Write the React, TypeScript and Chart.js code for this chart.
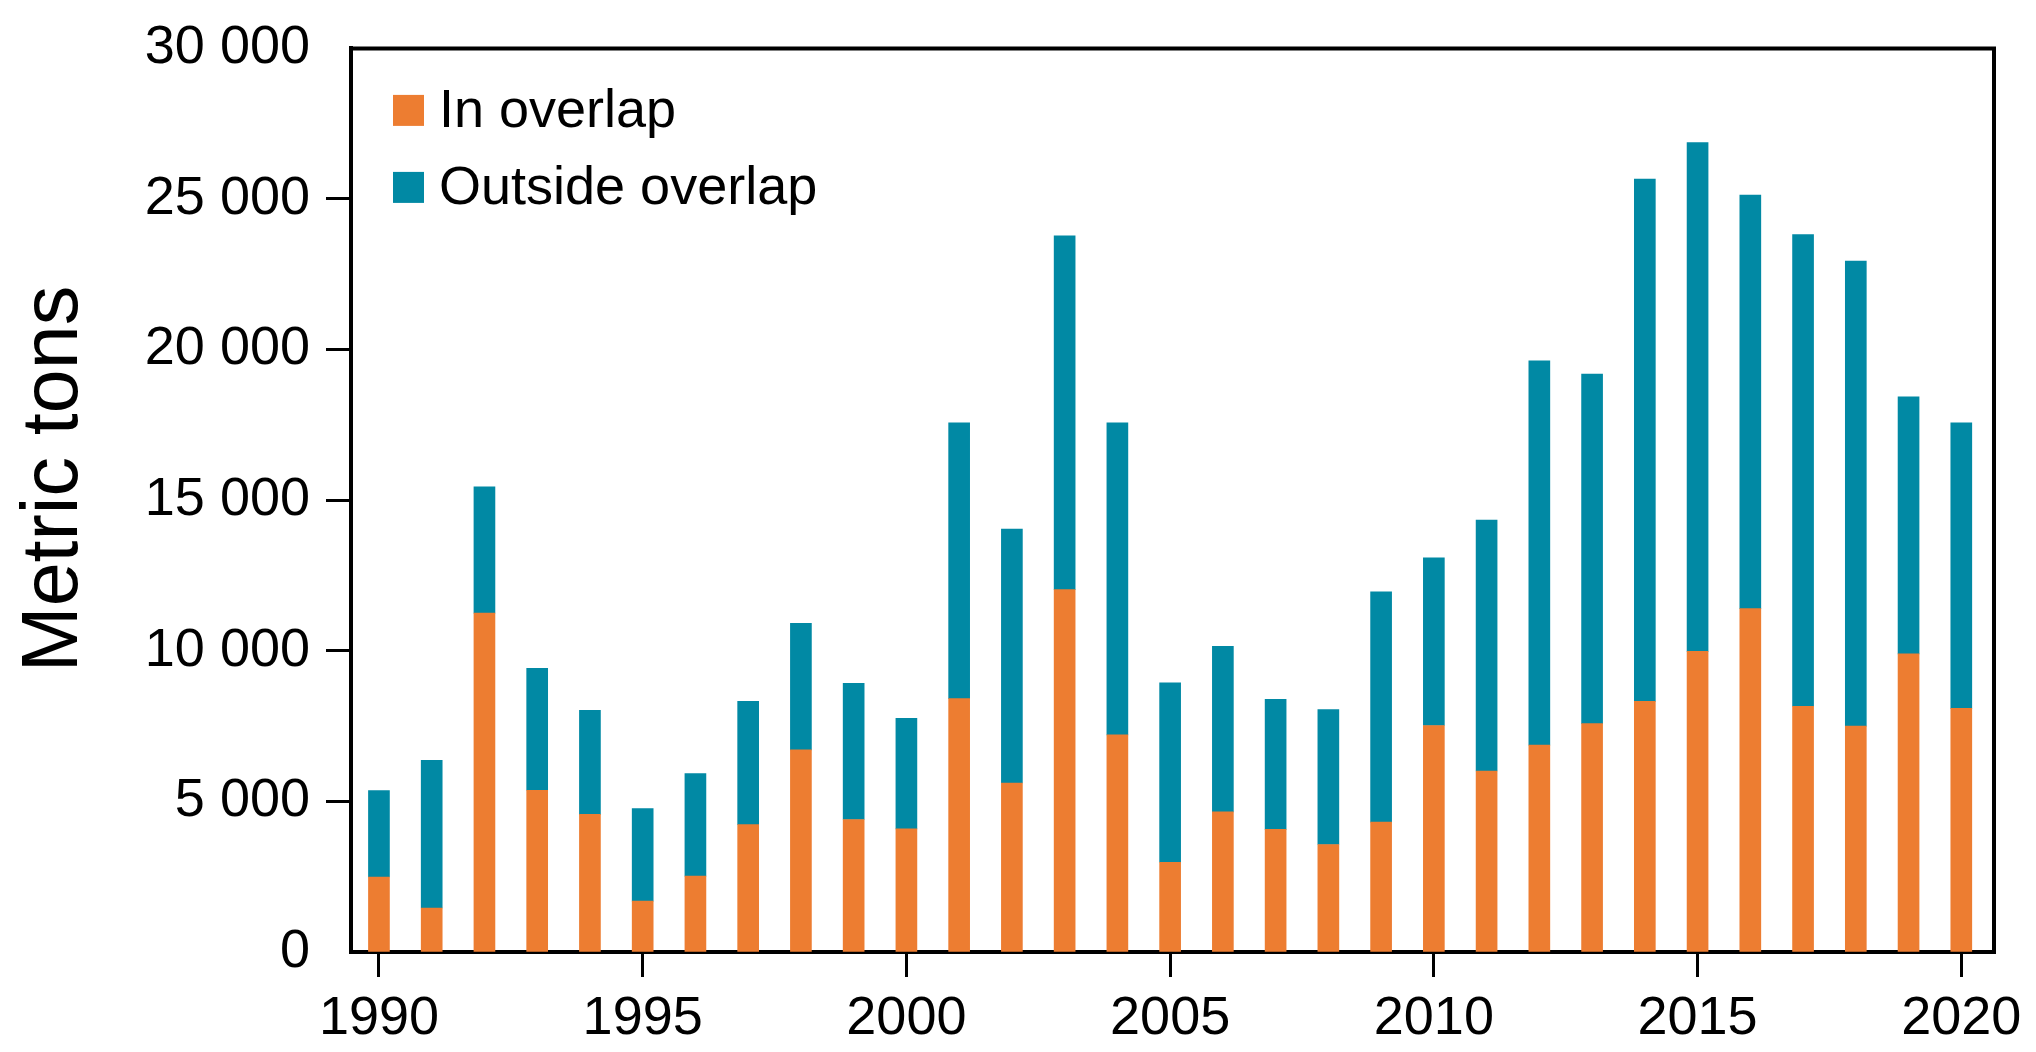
import React, { useEffect, useRef } from 'react';
import { Chart, registerables } from 'chart.js';

Chart.register(...registerables);

const years = [
  1990, 1991, 1992, 1993, 1994, 1995, 1996, 1997, 1998, 1999,
  2000, 2001, 2002, 2003, 2004, 2005, 2006, 2007, 2008, 2009,
  2010, 2011, 2012, 2013, 2014, 2015, 2016, 2017, 2018, 2019, 2020,
];

const inOverlap = [
  2490, 1460, 11250, 5370, 4570, 1690, 2520, 4230, 6710, 4400,
  4090, 8410, 5610, 12030, 7210, 2980, 4650, 4070, 3570, 4310,
  7520, 6010, 6870, 7580, 8320, 9980, 11400, 8160, 7500, 9900, 8090,
];

const outsideOverlap = [
  2870, 4900, 4190, 4050, 3450, 3070, 3400, 4090, 4200, 4520,
  3670, 9160, 8430, 11750, 10360, 5960, 5500, 4320, 4480, 7650,
  5570, 8330, 12760, 11610, 17340, 16890, 13730, 15660, 15440, 8530, 9480,
];

const seriesLabels = ['In overlap', 'Outside overlap'];
const seriesColors = ['#ED7D31', '#0189A4'];
const xTickValues = [1990, 1995, 2000, 2005, 2010, 2015, 2020];
const yTickValues = [0, 5000, 10000, 15000, 20000, 25000, 30000];
const yTitle = 'Metric tons';

const FONT = '"Liberation Sans", Arial, Helvetica, sans-serif';

const fmt = (v: number) => String(v).replace(/\B(?=(\d{3})+(?!\d))/g, ' ');

const framePlugin = {
  id: 'frameAndLegend',
  afterDraw(chart: any) {
    const { ctx, chartArea } = chart;
    ctx.save();
    ctx.strokeStyle = '#000';
    ctx.lineWidth = 4;
    ctx.beginPath();
    ctx.moveTo(chartArea.left - 2, chartArea.top);
    ctx.lineTo(chartArea.right, chartArea.top);
    ctx.lineTo(chartArea.right, chartArea.bottom + 2);
    ctx.stroke();

    const ds = chart.data.datasets;
    const boxX = chartArea.left + 42;
    const boxSize = 31;
    const rowY = [chartArea.top + 62, chartArea.top + 139];
    ctx.font = `54px ${FONT}`;
    ctx.textBaseline = 'middle';
    ctx.textAlign = 'left';
    ds.forEach((d: any, i: number) => {
      ctx.fillStyle = d.backgroundColor;
      ctx.fillRect(boxX, rowY[i] - boxSize / 2, boxSize, boxSize);
      ctx.fillStyle = '#000';
      ctx.fillText(d.label, boxX + boxSize + 15, rowY[i] + 2);
    });

    ctx.translate(55, 479);
    ctx.rotate(-Math.PI / 2);
    ctx.font = `79px ${FONT}`;
    ctx.textAlign = 'center';
    ctx.textBaseline = 'middle';
    ctx.fillStyle = '#000';
    ctx.fillText(yTitle, 0, 0);
    ctx.restore();
  },
};

export default function App() {
  const ref = useRef<HTMLCanvasElement | null>(null);

  useEffect(() => {
    if (!ref.current) return;
    const chart = new Chart(ref.current, {
      type: 'bar',
      data: {
        datasets: [
          {
            label: seriesLabels[0],
            data: years.map((y, i) => ({ x: y, y: inOverlap[i] })),
            backgroundColor: seriesColors[0],
            barThickness: 21,
            borderWidth: 0,
          },
          {
            label: seriesLabels[1],
            data: years.map((y, i) => ({ x: y, y: outsideOverlap[i] })),
            backgroundColor: seriesColors[1],
            barThickness: 21,
            borderWidth: 0,
          },
        ],
      },
      options: {
        animation: false,
        responsive: false,
        maintainAspectRatio: false,
        layout: { padding: { top: 42, right: 42, left: 0, bottom: 0 } },
        plugins: {
          legend: { display: false },
          tooltip: { enabled: false },
          title: { display: false },
        },
        scales: {
          x: {
            type: 'linear',
            stacked: true,
            offset: false,
            min: 1989.47,
            max: 2020.62,
            afterBuildTicks: (s: any) => {
              s.ticks = xTickValues.map((v) => ({ value: v }));
            },
            afterFit: (s: any) => {
              s.height = 100;
            },
            ticks: {
              autoSkip: false,
              maxRotation: 0,
              color: '#000',
              padding: 10,
              font: { family: FONT, size: 54 },
              callback: (v: any) => String(v),
            },
            grid: {
              display: true,
              offset: false,
              drawOnChartArea: false,
              drawTicks: true,
              tickLength: 25,
              tickWidth: 3,
              tickColor: '#000',
            },
            border: { display: true, color: '#000', width: 4 },
          },
          y: {
            type: 'linear',
            stacked: true,
            min: 0,
            max: 30000,
            afterBuildTicks: (s: any) => {
              s.ticks = yTickValues.map((v) => ({ value: v }));
            },
            afterFit: (s: any) => {
              s.width = 351;
            },
            ticks: {
              color: '#000',
              padding: 16,
              font: { family: FONT, size: 54 },
              callback: (v: any) => fmt(Number(v)),
            },
            grid: {
              display: true,
              drawOnChartArea: false,
              drawTicks: true,
              tickLength: 25,
              tickWidth: 3,
              tickColor: (c: any) =>
                c.tick && (c.tick.value === 0 || c.tick.value === 30000) ? 'rgba(0,0,0,0)' : '#000',
            },
            border: { display: true, color: '#000', width: 4 },
          },
        },
      },
      plugins: [framePlugin],
    } as any);
    return () => chart.destroy();
  }, []);

  return (
    <div style={{ position: 'fixed', left: 0, top: 0, width: 2036, height: 1052, background: '#fff' }}>
      <canvas ref={ref} width={2036} height={1052} style={{ display: 'block', width: 2036, height: 1052 }} />
    </div>
  );
}
